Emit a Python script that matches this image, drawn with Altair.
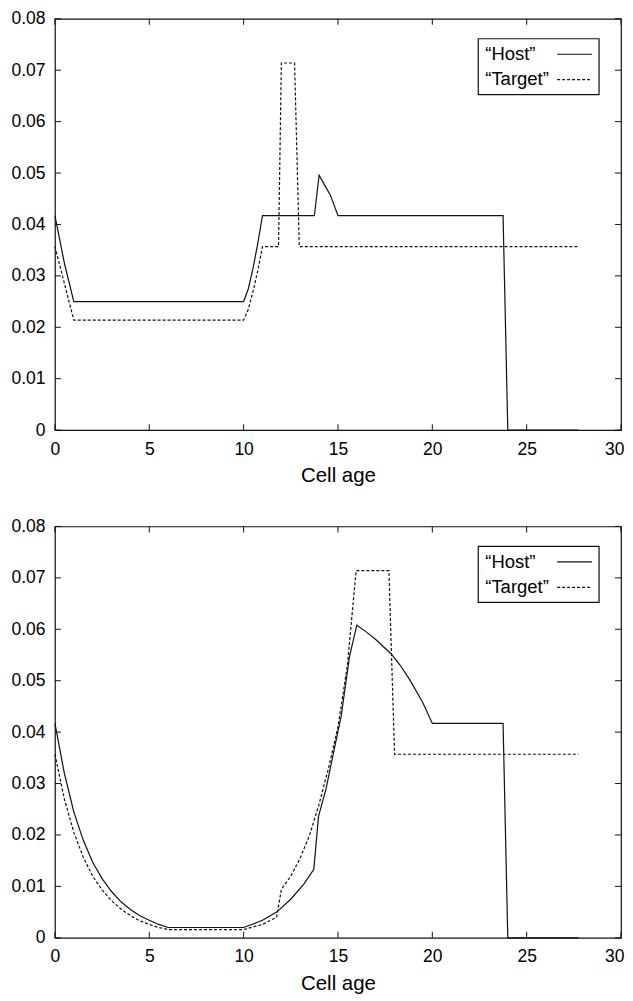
import altair as alt
import pandas as pd

# ---------------- data ----------------
# top panel
host_top_x = [0, 0.5, 1, 10, 10.25, 10.5, 10.75, 11, 13.75, 14, 14.3, 14.6, 15, 23.75, 24, 27.75]
host_top_y = [0.0417, 0.0325, 0.025, 0.025, 0.0275, 0.0315, 0.0363, 0.0417, 0.0417, 0.0496, 0.0476,
              0.0457, 0.0417, 0.0417, 0.0, 0.0]
target_top_x = [0, 1, 10, 10.25, 10.5, 10.75, 11, 11.85, 12, 12.7, 12.95, 27.75]
target_top_y = [0.0357, 0.0214, 0.0214, 0.0235, 0.027, 0.031, 0.0357, 0.0357, 0.0714, 0.0714,
                0.0357, 0.0357]

# bottom panel
host_bot_x = [0, 0.5, 1, 1.5, 2, 2.5, 3, 3.5, 4, 4.5, 5, 5.5, 6, 10, 11, 11.75, 12.5, 13.2, 13.72,
              13.97, 14.37, 14.73, 15.17, 15.61, 16, 16.5, 17, 17.8, 18.3, 18.8, 19.5, 20, 23.75, 24,
              27.75]
host_bot_y = [0.0417, 0.032, 0.0245, 0.019, 0.0147, 0.0115, 0.009, 0.007, 0.0055, 0.0043, 0.0034,
              0.0026, 0.002, 0.002, 0.0034, 0.005, 0.0075, 0.0105, 0.0133, 0.0236, 0.029, 0.0354,
              0.0431, 0.0547, 0.0608, 0.0595, 0.058, 0.0553, 0.053, 0.0502, 0.0457, 0.0417, 0.0417,
              0.0, 0.0]
target_bot_x = [0, 0.5, 1, 1.5, 2, 2.5, 3, 3.5, 4, 4.5, 5, 5.5, 6, 10, 11, 11.75, 12, 12.5, 13,
                13.5, 14, 14.5, 15, 15.5, 15.96, 17.7, 18, 27.75]
target_bot_y = [0.0357, 0.027, 0.0205, 0.0157, 0.012, 0.0093, 0.0072, 0.0056, 0.0043, 0.0033,
                0.0026, 0.002, 0.0016, 0.0016, 0.0026, 0.004, 0.0094, 0.012, 0.0155, 0.02, 0.026,
                0.033, 0.041, 0.053, 0.0714, 0.0714, 0.0357, 0.0357]

x_ticks = [0, 5, 10, 15, 20, 25, 30]
y_ticks = [0, 0.01, 0.02, 0.03, 0.04, 0.05, 0.06, 0.07, 0.08]
legend_labels = ["\u201cHost\u201d", "\u201cTarget\u201d"]

FONT = "Liberation Sans"
INK = "#111111"
W, H = 567, 412
TICK = 6


def panel(hx, hy, tx, ty):
    xs = alt.Scale(domain=[0, 30], nice=False, zero=False)
    ys = alt.Scale(domain=[0, 0.08], nice=False, zero=False)

    host = pd.DataFrame({"age": hx, "rate": hy})
    target = pd.DataFrame({"age": tx, "rate": ty})

    x_axis = alt.Axis(
        title="Cell age", values=x_ticks, ticks=False, domain=False, grid=False,
        labelFlush=False, labelFontSize=17.5, labelPadding=10.2,
        labelAlign=alt.ConditionalAxisLabelAlign(
            condition={"test": "datum.value == 30", "value": "right"}, value="center"),
        labelOffset=alt.ConditionalAxisNumber(
            condition={"test": "datum.value == 30", "value": 3}, value=0),
        titleFontSize=20.5, titlePadding=7.6, format="d")
    y_axis = alt.Axis(title="", values=y_ticks, ticks=False, domain=False, grid=False,
                      labelFlush=False, labelFontSize=17.5, labelPadding=10,
                      labelExpr="datum.value == 0 ? '0' : format(datum.value, '.2f')")

    def X(field):
        return alt.X(field, type="quantitative", scale=xs, axis=x_axis, title="Cell age")

    def Y(field):
        return alt.Y(field, type="quantitative", scale=ys, axis=y_axis, title="")

    host_line = alt.Chart(host).mark_line(color=INK, strokeWidth=1.2).encode(
        x=X("age"), y=Y("rate"), order="age:Q",
    )
    target_line = alt.Chart(target).mark_line(color=INK, strokeWidth=1.2,
                                              strokeDash=[3, 2]).encode(
        x=X("age"), y=Y("rate"), order="age:Q",
    )

    xt = pd.DataFrame({"age": x_ticks, "lo": [0.0] * len(x_ticks), "hi": [0.08] * len(x_ticks)})
    yt = pd.DataFrame({"rate": y_ticks, "lo": [0.0] * len(y_ticks), "hi": [30.0] * len(y_ticks)})

    tick_layers = []
    for col, sgn in [("lo", -1), ("hi", 1)]:
        tick_layers.append(
            alt.Chart(xt).mark_tick(orient="vertical", size=TICK, thickness=1, color=INK,
                                    opacity=1, yOffset=sgn * TICK / 2).encode(
                x=X("age"), y=Y(col),
            )
        )
        tick_layers.append(
            alt.Chart(yt).mark_tick(orient="horizontal", size=TICK, thickness=1, color=INK,
                                    opacity=1, xOffset=-sgn * TICK / 2).encode(
                x=X(col), y=Y("rate"),
            )
        )

    one = pd.DataFrame({"k": [0]})
    box = alt.Chart(one).mark_rect(fill="white", stroke=INK, strokeWidth=1.2).encode(
        x=alt.value(424), x2=alt.value(545), y=alt.value(20), y2=alt.value(76)
    )
    t_host = alt.Chart(one).mark_text(align="left", baseline="middle", font=FONT,
                                      fontSize=18.5, color="black").encode(
        x=alt.value(431), y=alt.value(35.5), text=alt.value(legend_labels[0])
    )
    t_target = alt.Chart(one).mark_text(align="left", baseline="middle", font=FONT,
                                        fontSize=18.5, color="black").encode(
        x=alt.value(431), y=alt.value(60.5), text=alt.value(legend_labels[1])
    )
    l_host = alt.Chart(one).mark_rule(color=INK, strokeWidth=1.2).encode(
        x=alt.value(503), x2=alt.value(538), y=alt.value(35.5)
    )
    l_target = alt.Chart(one).mark_rule(color=INK, strokeWidth=1.2, strokeDash=[3, 2]).encode(
        x=alt.value(503), x2=alt.value(538), y=alt.value(61)
    )

    return alt.layer(host_line, target_line, *tick_layers, box, t_host, t_target,
                     l_host, l_target).properties(width=W, height=H)


top = panel(host_top_x, host_top_y, target_top_x, target_top_y)
bottom = panel(host_bot_x, host_bot_y, target_bot_x, target_bot_y)

chart = alt.vconcat(top, bottom, spacing=29.5).properties(
    padding={"left": 2, "top": 0, "right": 0, "bottom": 0}
).configure_view(
    stroke=INK, strokeWidth=1.2
).configure_axis(
    labelFont=FONT, titleFont=FONT, labelColor="black", titleColor="black",
    titleFontWeight="normal"
)

chart.save("out.html", embed_options={"renderer": "svg", "actions": False})
